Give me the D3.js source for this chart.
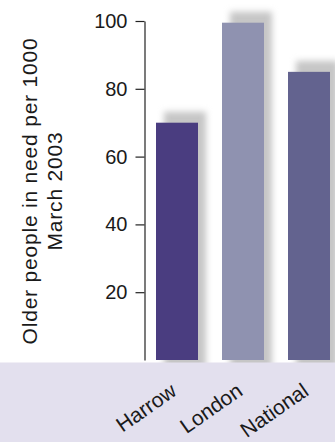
<!DOCTYPE html>
<html>
<head>
<meta charset="utf-8">
<script src="https://cdn.jsdelivr.net/npm/d3@7"></script>
<style>
  html, body { margin: 0; padding: 0; background: #fff; }
  svg { display: block; }
  text { font-family: "Liberation Sans", Arial, Helvetica, sans-serif; fill: #1a1a1a; }
</style>
</head>
<body>
<svg id="chart" width="335" height="442"></svg>
<script>
const categories = ["Harrow", "London", "National"];
const values = [70, 99.5, 85];
const barColors = ["#4a3d80", "#8f92b0", "#63638f"];
const yTicks = [20, 40, 60, 80, 100];
const yLabelLines = ["Older people in need per 1000", "March 2003"];

const W = 335, H = 442;
const svg = d3.select("#chart");

const axisX = 144.5;
const y = d3.scaleLinear().domain([0, 100]).range([360, 21]);
const x = d3.scaleBand().domain(categories).range([144, 342])
  .paddingInner(24 / 66).paddingOuter(12 / 66);

// shadow filter
const defs = svg.append("defs");
const f = defs.append("filter").attr("id", "blur")
  .attr("x", "-50%").attr("y", "-50%").attr("width", "200%").attr("height", "200%");
f.append("feGaussianBlur").attr("stdDeviation", 3.2);

// shadows
svg.append("g").selectAll("rect").data(categories).join("rect")
  .attr("x", d => x(d) + 8)
  .attr("y", (d, i) => y(values[i]) - 11)
  .attr("width", x.bandwidth())
  .attr("height", (d, i) => y(0) - y(values[i]) + 20)
  .attr("fill", "#c6c6c6")
  .attr("filter", "url(#blur)");

// bars
svg.append("g").selectAll("rect").data(categories).join("rect")
  .attr("x", d => x(d))
  .attr("y", (d, i) => y(values[i]))
  .attr("width", x.bandwidth())
  .attr("height", (d, i) => y(0) - y(values[i]))
  .attr("fill", (d, i) => barColors[i]);

// bottom band
svg.append("rect")
  .attr("x", 0).attr("y", 362.5).attr("width", W).attr("height", H - 362.5)
  .attr("fill", "#e3e0ee");

// y axis
const yAxis = d3.axisLeft(y).tickValues(yTicks).tickSize(9).tickPadding(8).tickSizeOuter(0);
const ga = svg.append("g").attr("transform", `translate(${axisX},0)`).call(yAxis);
ga.select(".domain").attr("stroke", "#222").attr("stroke-width", 1.2);
ga.selectAll(".tick line").attr("stroke", "#222").attr("stroke-width", 1.2);
ga.selectAll(".tick text")
  .style("font-family", '"Liberation Sans", Arial, sans-serif')
  .style("font-size", "20px").attr("fill", "#1a1a1a");

// y label
const yl = svg.append("text")
  .attr("transform", "translate(37,191) rotate(-90)")
  .attr("text-anchor", "middle")
  .style("font-size", "21px")
  .style("letter-spacing", "0.8px");
yl.append("tspan").attr("x", 0).attr("y", 0).text(yLabelLines[0]);
yl.append("tspan").attr("x", 0).attr("y", 24.5).text(yLabelLines[1]);

// x labels
svg.append("g").selectAll("text").data(categories).join("text")
  .attr("transform", d => `translate(${x(d) + x.bandwidth() / 2 + 1},394) rotate(-35)`)
  .attr("text-anchor", "end")
  .style("font-size", "21px")
  .text(d => d);
</script>
</body>
</html>
